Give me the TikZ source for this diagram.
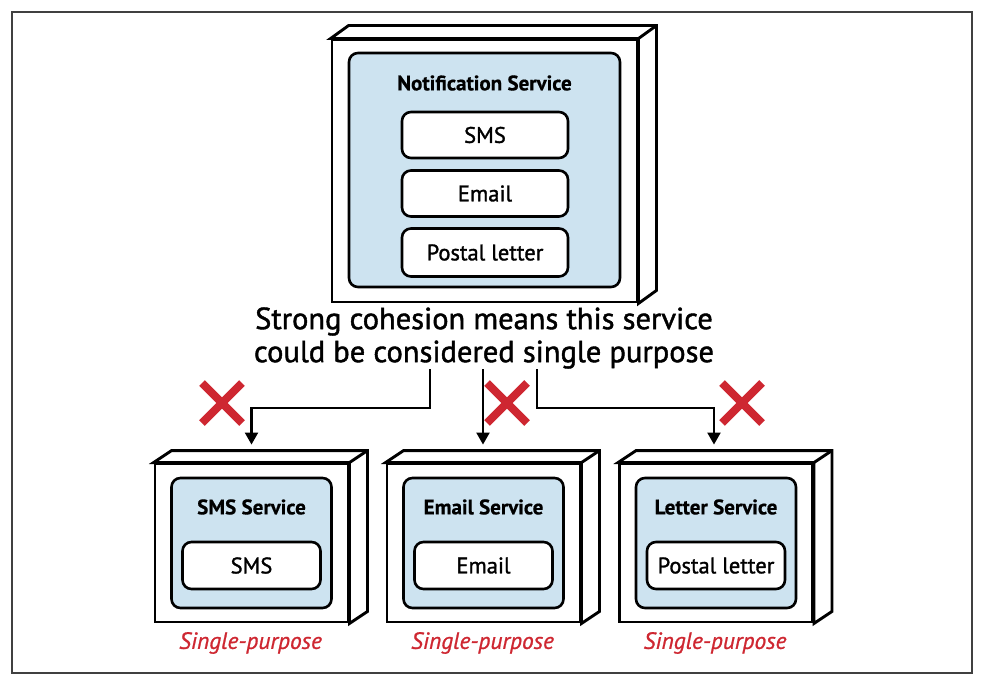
\documentclass[tikz,border=0pt]{standalone}
\usepackage{fontspec}
\setmainfont{PT Sans}[UprightFeatures={FakeBold=1.4},ItalicFeatures={FakeBold=0.9},BoldFeatures={FakeBold=0.6}]
\usetikzlibrary{arrows.meta,calc}
\definecolor{paleblue}{RGB}{205,227,240}
\definecolor{xred}{RGB}{206,39,49}
\begin{document}
\begin{tikzpicture}[x=1pt,y=-1pt,
  boxline/.style={line width=2.9pt,line join=miter},
  frontbox/.style={boxline,draw,fill=white,inner sep=0pt},
  bluebox/.style={draw,line width=2.6pt,fill=paleblue,rounded corners=9pt,inner sep=0pt},
  itembox/.style={draw,line width=2.6pt,fill=white,rounded corners=9pt,inner sep=0pt,font=\fontsize{22.5}{24}\selectfont},
  titletext/.style={font=\bfseries\fontsize{21}{23}\selectfont},
  purpose/.style={text=xred,font=\itshape\fontsize{23.5}{26}\selectfont},
  arr/.style={line width=2.2pt,-{Triangle[width=13pt,length=12pt]}},
  xmark/.style={draw=xred,line width=8pt,line cap=butt},
  frame/.style={draw=black!75,line width=1.2pt}
]
\useasboundingbox (0,0) rectangle (984,682);
\draw[frame] (12,12) rectangle (972,673);

% ---------- top service ----------
\node[frontbox,minimum width=305pt,minimum height=262pt] (top) at (484.5,171) {};
\draw[boxline,fill=white] (top.north west) -- ++(18,-13) -- ($(top.north east)+(18,-13)$) -- ($(top.south east)+(18,-13)$) -- (top.south east) -- (top.north east) -- cycle;
\draw[boxline] (top.north east) -- ++(18,-13);
\node[bluebox,minimum width=271pt,minimum height=234pt] (topin) at (484.5,170) {};
\node[titletext] (toptitle) at (484.5,83) {Notification Service};
\node[itembox,minimum width=166pt,minimum height=46pt] (sms) at (485,135) {SMS};
\node[itembox,minimum width=166pt,minimum height=46pt] (email) at (485,193.5) {Email};
\node[itembox,minimum width=166pt,minimum height=48pt] (postal) at (485,252.5) {Postal letter};

\node[font=\fontsize{30.5}{33}\selectfont,align=center,inner sep=0pt] (txt) at (484,338)
  {Strong cohesion means this service\\could be considered single purpose};

% ---------- bottom services ----------
\foreach \n/\cx/\ttl/\itm in {b1/251.5/SMS Service/SMS, b2/483.5/Email Service/Email, b3/716/Letter Service/Postal letter}{
  \node[frontbox,minimum width=193pt,minimum height=158pt] (\n) at (\cx,543) {};
  \draw[boxline,fill=white] (\n.north west) -- ++(18,-12) -- ($(\n.north east)+(18,-12)$) -- ($(\n.south east)+(18,-12)$) -- (\n.south east) -- (\n.north east) -- cycle;
  \draw[boxline] (\n.north east) -- ++(18,-12);
  \node[bluebox,minimum width=160pt,minimum height=130pt] (\n in) at (\cx,543) {};
  \node[titletext] (\n title) at (\cx,507) {\ttl};
  \node[itembox,minimum width=138pt,minimum height=47pt] (\n item) at (\cx,565.5) {\itm};
  \node[purpose] (\n lbl) at (\cx-1,643) {Single-purpose};
}

% ---------- connectors ----------
\coordinate (s1) at (430,369);
\coordinate (s2) at (483,369);
\coordinate (s3) at (537,369);
\coordinate (t1) at ($(b1.north)+(0,-18)$);
\coordinate (t2) at ($(b2.north)+(0,-18)$);
\coordinate (t3) at ($(b3.north)+(-2,-18)$);
\draw[arr] (s1) -- ++(0,39) -| (t1);
\draw[arr] (s2) -- (s2 |- t2);
\draw[arr] (s3) -- ++(0,39) -| (t3);

% ---------- red crosses ----------
\foreach \cx in {222,507,742}{
  \draw[xmark] (\cx-20,383) -- (\cx+20,423);
  \draw[xmark] (\cx-20,423) -- (\cx+20,383);
}
\end{tikzpicture}
\end{document}
